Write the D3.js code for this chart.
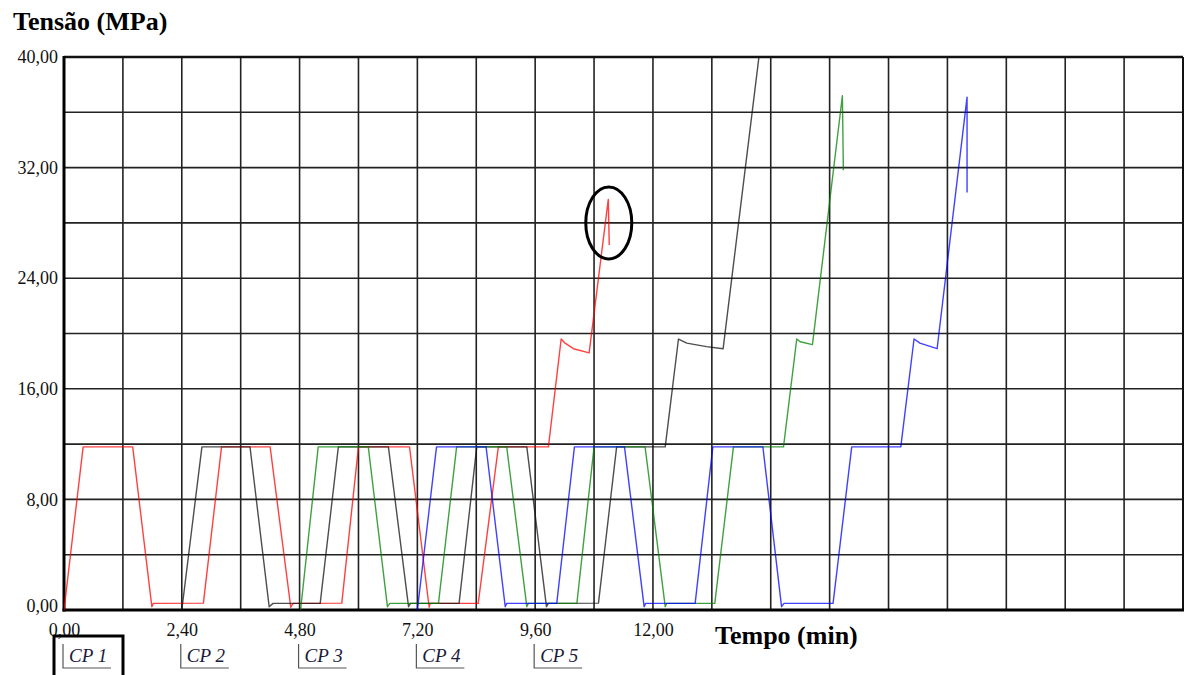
<!DOCTYPE html>
<html lang="pt">
<head>
    <meta charset="UTF-8">
    <title>Tensão x Tempo - CP 1 a CP 5</title>
    <script type="text/javascript" src="https://d3js.org/d3.v7.min.js"></script>
    <style>
        body { margin: 0; background: #fff; }
        text { font-family: "Liberation Serif", "DejaVu Serif", serif; }
    </style>
</head>
<body>

    <svg id="svg" width="1184" height="675"></svg>

    <script>
        // tempo (min) e tensão (MPa)
        const cp1Time   = [0, 0.39, 1.40, 1.79, 1.82, 2.84, 3.21, 4.20, 4.62, 4.67, 5.66, 6.00, 7.04, 7.44, 7.46, 8.44, 8.85, 9.87, 10.13, 10.21, 10.38, 10.70, 11.09, 11.11];
        const cp1Stress = [0, 11.8, 11.8, 0.24, 0.48, 0.5, 11.8, 11.8, 0.2, 0.48, 0.5, 11.8, 11.8, 0.2, 0.48, 0.48, 11.8, 11.8, 19.6, 19.3, 18.9, 18.6, 29.7, 26.4];

        const cp2Time   = [2.40, 2.81, 3.79, 4.18, 4.26, 5.22, 5.59, 6.61, 7.02, 7.06, 8.05, 8.41, 9.43, 9.83, 9.87, 10.89, 11.26, 12.25, 12.52, 12.69, 13.09, 13.43, 14.17];
        const cp2Stress = [0, 11.8, 11.8, 0.24, 0.48, 0.48, 11.8, 11.8, 0.24, 0.48, 0.48, 11.8, 11.8, 0.24, 0.48, 0.5, 11.8, 11.8, 19.6, 19.3, 19.05, 18.9, 40.3];

        const cp3Time   = [4.82, 5.18, 6.20, 6.59, 6.64, 7.63, 8.00, 9.02, 9.43, 9.46, 10.45, 10.80, 11.84, 12.25, 12.28, 13.26, 13.64, 14.66, 14.93, 15.00, 15.25, 15.86, 15.88];
        const cp3Stress = [0, 11.8, 11.8, 0.24, 0.48, 0.48, 11.8, 11.8, 0.24, 0.48, 0.48, 11.8, 11.8, 0.24, 0.48, 0.48, 11.8, 11.8, 19.6, 19.4, 19.2, 37.2, 31.8];

        const cp4Time   = [7.20, 7.59, 8.60, 8.99, 9.02, 10.04, 10.40, 11.42, 11.82, 11.85, 12.86, 13.22, 14.24, 14.62, 14.67, 15.67, 16.05, 17.05, 17.32, 17.44, 17.79, 18.40, 18.40];
        const cp4Stress = [0, 11.8, 11.8, 0.24, 0.48, 0.48, 11.8, 11.8, 0.24, 0.48, 0.48, 11.8, 11.8, 0.24, 0.48, 0.48, 11.8, 11.8, 19.6, 19.3, 18.9, 37.1, 30.2];

        const seriesNames  = ["CP 1", "CP 2", "CP 3", "CP 4", "CP 5"];
        const seriesColors = ["#ff0000", "#111111", "#008000", "#0000ff", "#888888"];

        const xTickLabels = [0, 2.4, 4.8, 7.2, 9.6, 12];
        const yTickLabels = [0, 8, 16, 24, 32, 40];
        const xGrid = d3.range(0, 22.81, 1.2);
        const yGrid = d3.range(0, 40.01, 4);

        // ponto de ruptura destacado (CP 1)
        const highlight = { t: 11.10, s: 28.0 };

        let svg = d3.select('svg');
        const plotLeft = 64, plotRight = 1183, plotTop = 57, plotBottom = 610;

        const x = d3.scaleLinear().domain([0, 22.8]).range([plotLeft, plotRight]);
        const y = d3.scaleLinear().domain([0, 40]).range([plotBottom, plotTop]);

        svg.append('rect').attr('width', 1184).attr('height', 675).attr('fill', '#fff');

        // grade
        let grid = svg.append('g');
        grid.selectAll('line.v')
            .data(xGrid)
            .enter()
            .append('line')
            .attr('x1', d => x(d)).attr('x2', d => x(d))
            .attr('y1', plotTop).attr('y2', plotBottom)
            .attr('stroke', '#222').style('stroke-width', 1.6);
        grid.selectAll('line.h')
            .data(yGrid)
            .enter()
            .append('line')
            .attr('x1', plotLeft).attr('x2', plotRight)
            .attr('y1', d => y(d)).attr('y2', d => y(d))
            .attr('stroke', '#222').style('stroke-width', 1.6);

        // moldura
        svg.append('line').attr('x1', plotLeft).attr('x2', plotRight).attr('y1', plotTop).attr('y2', plotTop)
            .attr('stroke', '#111').style('stroke-width', 2.6);
        svg.append('line').attr('x1', plotRight).attr('x2', plotRight).attr('y1', plotTop).attr('y2', plotBottom)
            .attr('stroke', '#111').style('stroke-width', 2);
        svg.append('line').attr('x1', plotLeft).attr('x2', plotLeft).attr('y1', plotTop - 1).attr('y2', plotBottom + 1.5)
            .attr('stroke', '#000').style('stroke-width', 3);
        svg.append('line').attr('x1', plotLeft - 1.5).attr('x2', plotRight + 1).attr('y1', plotBottom).attr('y2', plotBottom)
            .attr('stroke', '#000').style('stroke-width', 3.2);

        // eixos (só os rótulos)
        const fmt = d => d3.format('.2f')(d).replace('.', ',');

        let yAxis = svg.append('g')
            .attr('transform', `translate(${plotLeft - 6},0)`)
            .call(d3.axisLeft(y).tickValues(yTickLabels).tickSize(0).tickFormat(fmt));
        yAxis.select('.domain').remove();
        yAxis.selectAll('text')
            .attr('x', 0).attr('dy', '0.32em')
            .style('font-family', '"Liberation Serif", serif')
            .style('font-size', '18px').attr('fill', '#111');
        yAxis.selectAll('text').filter(d => d === 0).attr('dy', '0.1em');

        let xAxis = svg.append('g')
            .attr('transform', `translate(0,${plotBottom})`)
            .call(d3.axisBottom(x).tickValues(xTickLabels).tickSize(0).tickFormat(fmt));
        xAxis.select('.domain').remove();
        xAxis.selectAll('text')
            .attr('y', 26).attr('dy', 0)
            .style('font-family', '"Liberation Serif", serif')
            .style('font-size', '18px').attr('fill', '#111');

        svg.append('text')
            .attr('x', 13).attr('y', 30)
            .style('font-size', '26px').style('font-weight', 'bold')
            .text('Tensão (MPa)');
        svg.append('text')
            .attr('x', 715).attr('y', 644)
            .style('font-size', '26px').style('font-weight', 'bold')
            .text('Tempo (min)');

        // curvas
        svg.append('clipPath').attr('id', 'plotClip')
            .append('rect').attr('x', plotLeft).attr('y', plotTop)
            .attr('width', plotRight - plotLeft).attr('height', plotBottom - plotTop);

        const curves = [
            { name: "CP 1", t: cp1Time, s: cp1Stress, color: seriesColors[0] },
            { name: "CP 2", t: cp2Time, s: cp2Stress, color: seriesColors[1] },
            { name: "CP 3", t: cp3Time, s: cp3Stress, color: seriesColors[2] },
            { name: "CP 4", t: cp4Time, s: cp4Stress, color: seriesColors[3] }
        ];

        const line = d3.line().x(d => x(d[0])).y(d => y(d[1]));

        svg.append('g').attr('clip-path', 'url(#plotClip)')
            .selectAll('path')
            .data(curves)
            .enter()
            .append('path')
            .attr('d', c => line(c.t.map((t, i) => [t, c.s[i]])))
            .attr('fill', 'none')
            .attr('stroke', c => c.color)
            .attr('stroke-opacity', 0.75)
            .style('stroke-width', 1.4)
            .attr('stroke-linejoin', 'round');

        // destaque da ruptura
        svg.append('ellipse')
            .attr('cx', x(highlight.t)).attr('cy', y(highlight.s))
            .attr('rx', 23).attr('ry', 36)
            .attr('fill', 'none').attr('stroke', '#000').style('stroke-width', 3);

        // legenda
        let legend = svg.append('g');
        const legendItems = legend.selectAll('g')
            .data(seriesNames)
            .enter()
            .append('g')
            .attr('transform', (d, i) => `translate(${x(xTickLabels[i]) - 1},0)`);
        legendItems.append('path')
            .attr('d', 'M0,644 V668 H48')
            .attr('fill', 'none').attr('stroke', '#555').style('stroke-width', 1.2);
        legendItems.append('text')
            .attr('x', 6).attr('y', 662)
            .style('font-size', '19px').style('font-style', 'italic')
            .attr('fill', '#1a1a3a')
            .text(d => d);

        legend.append('rect')
            .attr('x', 54).attr('y', 636).attr('width', 69).attr('height', 45)
            .attr('fill', 'none').attr('stroke', '#000').style('stroke-width', 3);
    </script>

</body>
</html>
